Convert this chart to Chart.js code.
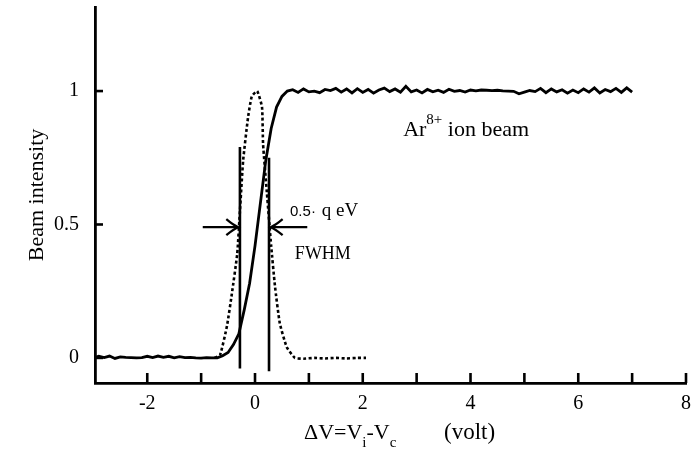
<!DOCTYPE html>
<html>
<head>
<meta charset="utf-8">
<script src="https://cdn.jsdelivr.net/npm/chart.js@4.4.1/dist/chart.umd.min.js"></script>
<style>
  html, body { margin: 0; padding: 0; background: #fff; }
  #wrap { width: 697px; height: 470px; }
</style>
</head>
<body>
<div id="wrap"><canvas id="beamChart"></canvas></div>
<script>
//////// Data ////////

// solid curve: beam intensity vs retarding voltage
const stepV = [
  -2.95, -2.9, -2.8, -2.7, -2.6, -2.5, -2.4, -2.3, -2.2, -2.1, -2.0, -1.9,
  -1.8, -1.7, -1.6, -1.5, -1.4, -1.3, -1.2, -1.1, -1.0, -0.9, -0.8, -0.7,
  -0.6, -0.5, -0.4, -0.3, -0.2, -0.1, 0.0, 0.1, 0.2, 0.3, 0.4, 0.5, 0.6,
  0.7, 0.8, 0.9, 1.0, 1.1, 1.2, 1.3, 1.4, 1.5, 1.6, 1.7, 1.8, 1.9, 2.0,
  2.1, 2.2, 2.3, 2.4, 2.5, 2.6, 2.7, 2.8, 2.9, 3.0, 3.1, 3.2, 3.3, 3.4,
  3.5, 3.6, 3.7, 3.8, 3.9, 4.0, 4.1, 4.2, 4.3, 4.4, 4.5, 4.6, 4.7, 4.8,
  4.9, 5.0, 5.1, 5.2, 5.3, 5.4, 5.5, 5.6, 5.7, 5.8, 5.9, 6.0, 6.1, 6.2,
  6.3, 6.4, 6.5, 6.6, 6.7, 6.8, 6.9, 7.0,
];
const stepI = [
  0.003, 0.006, 0.001, 0.007, -0.002, 0.004, 0.002, 0.001, 0.0, 0.001, 0.006, 0.001,
  0.007, 0.002, 0.006, 0.0, 0.005, 0.001, 0.002, 0.0, -0.001, 0.001, 0.0, 0.0,
  0.008, 0.02, 0.05, 0.09, 0.18, 0.28, 0.42, 0.58, 0.74, 0.86, 0.94, 0.98, 1.0,
  1.005, 0.995, 1.008, 0.997, 1.0, 0.994, 1.006, 1.002, 1.01, 0.996, 1.008, 0.993, 1.009, 0.995,
  1.006, 0.992, 1.004, 1.011, 0.998, 1.008, 0.996, 1.018, 0.997, 1.004, 0.993, 1.006, 0.997, 1.003,
  0.995, 1.007, 0.999, 1.002, 0.996, 1.004, 1.001, 1.004, 1.003, 1.002, 1.003, 1.001, 1.0, 0.999,
  0.99, 0.996, 1.002, 0.998, 1.01, 0.994, 1.008, 0.997, 1.005, 0.992, 1.004, 0.994, 1.008, 0.996,
  1.012, 0.993, 1.006, 0.998, 1.01, 0.995, 1.012, 0.996,
];

// dotted curve: energy distribution (derivative)
const profV = [
  -0.75, -0.65, -0.52, -0.43, -0.33, -0.28, -0.22, -0.13, -0.06, 0.04, 0.13, 0.15,
  0.22, 0.3, 0.37, 0.46, 0.59, 0.74, 0.9, 1.1, 1.3, 1.5, 1.7, 1.9, 2.06,
];
const profI = [
  0.0, 0.01, 0.12, 0.24, 0.39, 0.55, 0.74, 0.9, 0.98, 1.0, 0.94, 0.8,
  0.62, 0.42, 0.27, 0.13, 0.04, 0.0, -0.003, 0.0, -0.002, 0.0, -0.002, 0.0, 0.0,
];

// FWHM markers
const fwhmV = [-0.28, 0.26];
const fwhmTop = [0.79, 0.75];
const fwhmBottom = [-0.04, -0.05];

// axes
const xTicks = [-2, -1, 0, 1, 2, 3, 4, 5, 6, 7, 8];
const yTicks = [0, 0.5, 1];

//////// Chart ////////

const serif = "'Liberation Serif', 'DejaVu Serif', serif";

const toPoints = (xs, ys) => xs.map((v, i) => ({ x: v, y: ys[i] }));

const fwhmLine = (i) => ({
  data: [
    { x: fwhmV[i], y: fwhmTop[i] },
    { x: fwhmV[i], y: fwhmBottom[i] },
  ],
  borderColor: "#000",
  borderWidth: 2.6,
  pointRadius: 0,
});

// ticks inside the frame, arrows and labels
const annotate = {
  id: "annotate",
  afterDraw(chart) {
    const { ctx, chartArea: area, scales } = chart;
    const x = scales.x;
    const y = scales.y;
    ctx.save();
    ctx.strokeStyle = "#000";
    ctx.fillStyle = "#000";
    ctx.lineWidth = 2.6;

    xTicks.forEach((v) => {
      const px = x.getPixelForValue(v);
      ctx.beginPath();
      ctx.moveTo(px, area.bottom);
      ctx.lineTo(px, area.bottom - 10);
      ctx.stroke();
    });
    yTicks.forEach((v) => {
      const py = y.getPixelForValue(v);
      ctx.beginPath();
      ctx.moveTo(area.left, py);
      ctx.lineTo(area.left + 8, py);
      ctx.stroke();
    });

    // arrows pointing at the half-maximum points
    const arrow = (fromV, toV, level) => {
      const x0 = x.getPixelForValue(fromV);
      const x1 = x.getPixelForValue(toV);
      const py = y.getPixelForValue(level);
      const d = Math.sign(x1 - x0);
      ctx.lineWidth = 2.2;
      ctx.beginPath();
      ctx.moveTo(x0, py);
      ctx.lineTo(x1, py);
      ctx.stroke();
      ctx.beginPath();
      ctx.moveTo(x1 - d * 12, py - 8);
      ctx.quadraticCurveTo(x1 - d * 5, py - 2, x1, py);
      ctx.quadraticCurveTo(x1 - d * 5, py + 2, x1 - d * 12, py + 8);
      ctx.stroke();
    };
    arrow(-0.97, -0.31, 0.49);
    arrow(0.97, 0.29, 0.49);

    ctx.textBaseline = "alphabetic";
    ctx.textAlign = "left";

    // Ar8+ ion beam
    let tx = x.getPixelForValue(2.75);
    let ty = y.getPixelForValue(0.83);
    ctx.font = `22px ${serif}`;
    ctx.fillText("Ar", tx, ty);
    tx += ctx.measureText("Ar").width;
    ctx.font = `15px ${serif}`;
    ctx.fillText("8+", tx, ty - 12);
    tx += ctx.measureText("8+").width;
    ctx.font = `22px ${serif}`;
    ctx.fillText(" ion beam", tx, ty);

    // 0.5 q eV
    tx = x.getPixelForValue(0.65);
    ty = y.getPixelForValue(0.53);
    ctx.font = "15px 'Liberation Sans', sans-serif";
    ctx.fillText("0.5·", tx, ty);
    tx += ctx.measureText("0.5·").width + 6;
    ctx.font = `19px ${serif}`;
    ctx.fillText("q eV", tx, ty);

    // FWHM
    ctx.font = `18px ${serif}`;
    ctx.textBaseline = "middle";
    ctx.fillText("FWHM", x.getPixelForValue(0.74), y.getPixelForValue(0.39));

    // x axis title with subscripts
    ctx.textBaseline = "alphabetic";
    const base = area.bottom + 56;
    tx = 304;
    const runs = [
      ["ΔV=V", 22, 0],
      ["i", 15, 8],
      ["-V", 22, 0],
      ["c", 15, 8],
    ];
    runs.forEach(([s, size, drop]) => {
      ctx.font = `${size}px ${serif}`;
      ctx.fillText(s, tx, base + drop);
      tx += ctx.measureText(s).width;
    });
    ctx.font = `23px ${serif}`;
    ctx.fillText("(volt)", 444, base);

    ctx.restore();
  },
};

const canvas = document.getElementById("beamChart");
const beamChart = new Chart(canvas, {
  type: "line",
  data: {
    datasets: [
      {
        data: toPoints(stepV, stepI),
        borderColor: "#000",
        borderWidth: 2.8,
        pointRadius: 0,
        tension: 0,
      },
      {
        data: toPoints(profV, profI),
        borderColor: "#000",
        borderWidth: 2.6,
        borderDash: [3, 2.5],
        pointRadius: 0,
        tension: 0.15,
      },
      fwhmLine(0),
      fwhmLine(1),
    ],
  },
  options: {
    responsive: true,
    maintainAspectRatio: false,
    animation: false,
    layout: { padding: { top: 7, right: 11, left: 0, bottom: 0 } },
    plugins: {
      legend: { display: false },
      tooltip: { enabled: false },
    },
    scales: {
      x: {
        type: "linear",
        min: -2.97,
        max: 8,
        afterBuildTicks: (scale) => {
          scale.ticks = xTicks.map((v) => ({ value: v }));
        },
        afterFit: (scale) => {
          scale.height = 87;
          scale.paddingLeft = 0;
          scale.paddingRight = 0;
        },
        ticks: {
          callback: (v) => (v % 2 === 0 ? String(v) : ""),
          color: "#000",
          padding: 9,
          maxRotation: 0,
          autoSkip: false,
          font: { family: serif, size: 20 },
        },
        grid: { display: true, drawOnChartArea: false, drawTicks: false },
        border: { display: true, color: "#000", width: 2.8 },
      },
      y: {
        type: "linear",
        min: -0.094,
        max: 1.315,
        afterBuildTicks: (scale) => {
          scale.ticks = yTicks.map((v) => ({ value: v }));
        },
        afterFit: (scale) => {
          scale.width = 95;
          scale.paddingTop = 0;
          scale.paddingBottom = 0;
        },
        ticks: {
          callback: (v) => String(v),
          color: "#000",
          padding: 16,
          font: { family: serif, size: 20 },
        },
        title: {
          display: true,
          text: "Beam intensity",
          color: "#000",
          font: { family: serif, size: 22 },
          padding: { top: 24, bottom: 0 },
        },
        grid: { display: true, drawOnChartArea: false, drawTicks: false },
        border: { display: true, color: "#000", width: 2.8 },
      },
    },
  },
  plugins: [annotate],
});
</script>
</body>
</html>
